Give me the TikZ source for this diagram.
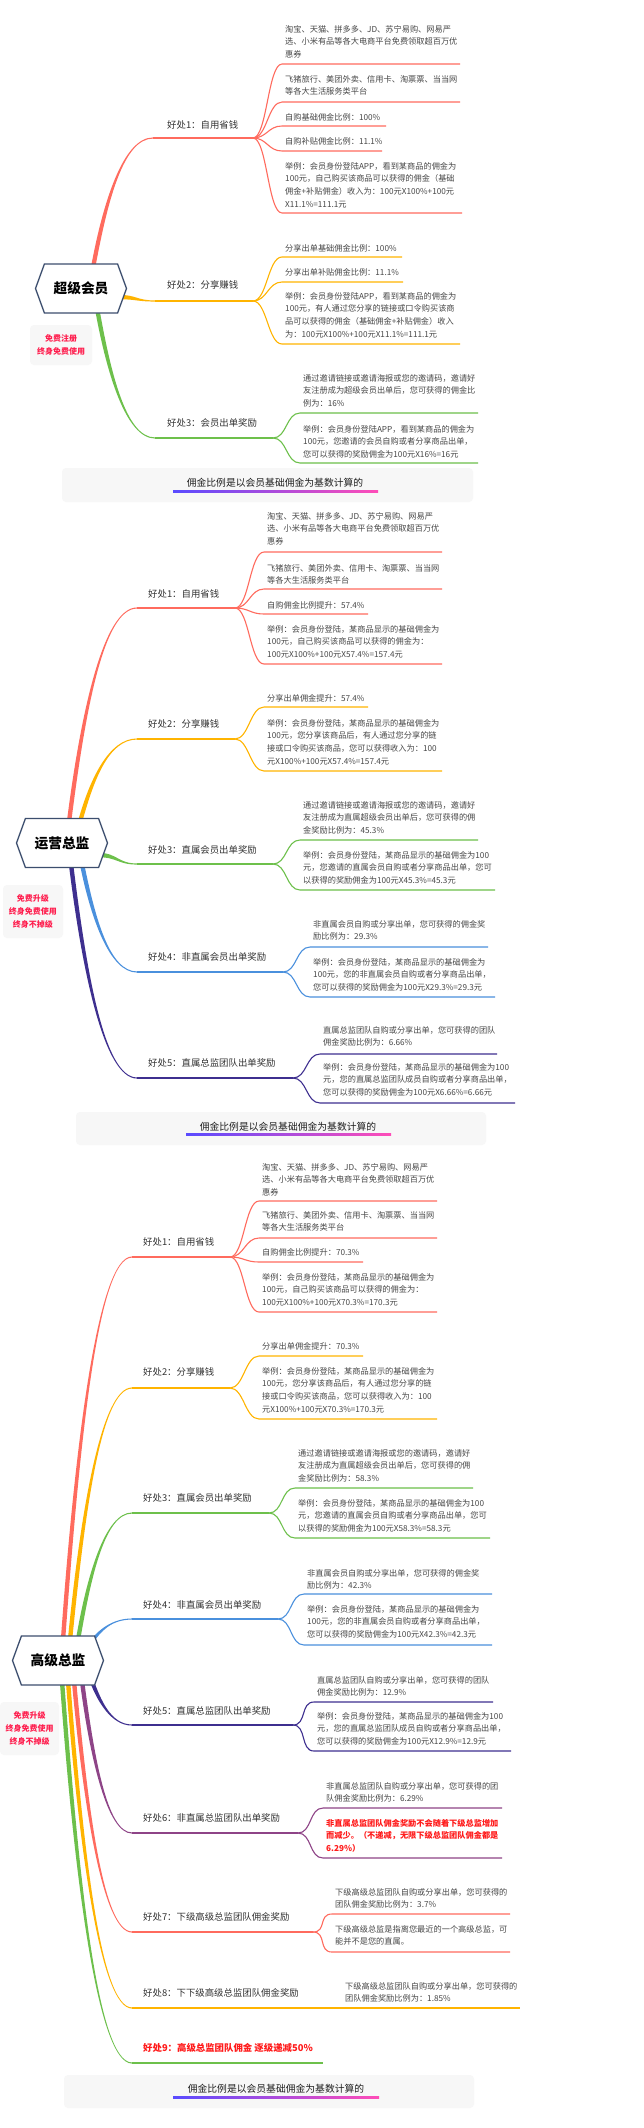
\documentclass[tikz,border=0pt]{standalone}
\usepackage{fontspec}
\setmainfont{Noto Sans CJK SC}
\usetikzlibrary{shapes.symbols,calc}
\definecolor{cRed}{HTML}{FF6B5E}
\definecolor{cOrange}{HTML}{FFB400}
\definecolor{cGreen}{HTML}{6DC04B}
\definecolor{cBlue}{HTML}{4A90DD}
\definecolor{cDPurple}{HTML}{3E2F8F}
\definecolor{cPurple}{HTML}{8E4487}
\definecolor{cText}{HTML}{474747}
\definecolor{cLabel}{HTML}{333333}
\definecolor{cBadge}{HTML}{FF1E4E}
\definecolor{cNote}{HTML}{F7F7F7}
\definecolor{cNoteT}{HTML}{1E1E1E}
\definecolor{cRoot}{HTML}{3C4E6E}
\definecolor{cRedT}{HTML}{FF1A1A}
\definecolor{gBlue}{HTML}{5A4BFF}
\definecolor{gPink}{HTML}{FF4DB8}
\tikzset{
 thinl/.style={line width=1.1pt},
 leaftext/.style={inner sep=0pt, align=left, text=cText, font=\fontsize{8.2}{12.7}\selectfont},
 leafred/.style={inner sep=0pt, align=left, text=cRedT, font=\fontsize{8.2}{12.7}\selectfont\bfseries},
 brlabel/.style={inner sep=0pt, text=cLabel, font=\fontsize{9.4}{11}\selectfont},
 rootbox/.style={shape=signal, signal to=east and west, signal pointer angle=140, draw=cRoot, line width=1.3pt, fill=white, minimum width=91pt, minimum height=49pt, inner sep=0pt, font=\fontsize{13.7}{16}\selectfont\bfseries, text=black},
 badge/.style={fill=cNote, rounded corners=4pt, align=center, text=cBadge, font=\fontsize{8}{13}\selectfont\bfseries, inner sep=0pt},
 notebox/.style={fill=cNote, rounded corners=4pt, inner sep=0pt},
 notetext/.style={inner sep=0pt, text=cNoteT, font=\fontsize{9.8}{12}\selectfont},
}
% tapered main branch, mostly vertical start; #4 = 1 upward, -1 downward
\newcommand\mainup[4]{%
\fill[#1] let \p1=(#2), \p2=(#3) in
 ({\x1-2.2pt},\y1) .. controls ({\x1+0.2*(\x2-\x1)-2.2pt},{\y1+0.5*(\y2-\y1)}) and ({\x1+0.5*(\x2-\x1)},{\y2+#4*0.55pt}) .. (\x2,{\y2+#4*0.55pt})
 -- (\x2,{\y2-#4*0.55pt}) .. controls ({\x1+0.5*(\x2-\x1)},{\y2-#4*0.55pt}) and ({\x1+0.2*(\x2-\x1)+2.2pt},{\y1+0.5*(\y2-\y1)}) .. ({\x1+2.2pt},\y1) -- cycle;}
% tapered main branch, horizontal start
\newcommand\mainh[3]{%
\fill[#1] let \p1=(#2), \p2=(#3) in
 (\x1,{\y1+2.2pt}) .. controls ({0.5*(\x1+\x2)},{\y1+2.2pt}) and ({0.5*(\x1+\x2)},{\y2+0.55pt}) .. (\x2,{\y2+0.55pt})
 -- (\x2,{\y2-0.55pt}) .. controls ({0.5*(\x1+\x2)},{\y2-0.55pt}) and ({0.5*(\x1+\x2)},{\y1-2.2pt}) .. (\x1,{\y1-2.2pt}) -- cycle;}
% leaf: color, junction, name, text x, first line center y, underline y, end x, text
\newcommand\leaf[8]{%
 \coordinate (#3a) at (#4-3,#6); \coordinate (#3b) at (#7,#6);
 \draw[#1,thinl] (#2) .. controls +(14,0) and +(-14,0) .. (#3a) -- (#3b);
 \node[leaftext,anchor=north west] (#3) at (#4,#5-4.1) {#8};}
\begin{document}
\begin{tikzpicture}[x=1pt,y=-1pt]
\useasboundingbox (0,0) rectangle (644,2128);
\fill[white] (0,0) rectangle (644,2128);

%================ Section A =================
\node[notebox,minimum width=411pt,minimum height=34pt] (An) at (267.5,485) {};
\node[notetext] (Ant) at (275,483) {佣金比例是以会员基础佣金为基数计算的};
\shade[left color=gBlue,right color=gPink] (173,490) rectangle (378,492.5);

\coordinate (As1) at (93,268); \coordinate (Ae1) at (153,138); \coordinate (Aj1) at (253,138);
\coordinate (As2) at (118,297); \coordinate (Ae2) at (155,301); \coordinate (Aj2) at (253,301);
\coordinate (As3) at (97,308); \coordinate (Ae3) at (155,438); \coordinate (Aj3) at (273,438);
\mainup{cRed}{As1}{Ae1}{1} \draw[cRed,thinl] (Ae1) -- (Aj1);
\mainh{cOrange}{As2}{Ae2} \draw[cOrange,thinl] (Ae2) -- (Aj2);
\mainup{cGreen}{As3}{Ae3}{-1} \draw[cGreen,thinl] (Ae3) -- (Aj3);

\leaf{cRed}{Aj1}{A1a}{285}{29}{64}{460}{淘宝、天猫、拼多多、JD、苏宁易购、网易严\\选、小米有品等各大电商平台免费领取超百万优\\惠券}
\leaf{cRed}{Aj1}{A1b}{285}{79}{102}{460}{飞猪旅行、美团外卖、信用卡、淘票票、当当网\\等各大生活服务类平台}
\leaf{cRed}{Aj1}{A1c}{285}{117}{126}{386}{自购基础佣金比例：100\%}
\leaf{cRed}{Aj1}{A1d}{285}{141}{151}{382}{自购补贴佣金比例：11.1\%}
\leaf{cRed}{Aj1}{A1e}{285}{166}{213}{462}{举例：会员身份登陆APP，看到某商品的佣金为\\100元，自己购买该商品可以获得的佣金（基础\\佣金+补贴佣金）收入为：100元X100\%+100元\\X11.1\%=111.1元}
\leaf{cOrange}{Aj2}{A2a}{285}{248}{257}{402}{分享出单基础佣金比例：100\%}
\leaf{cOrange}{Aj2}{A2b}{285}{272}{282}{403}{分享出单补贴佣金比例：11.1\%}
\leaf{cOrange}{Aj2}{A2c}{285}{296}{344}{460}{举例：会员身份登陆APP，看到某商品的佣金为\\100元，有人通过您分享的链接或口令购买该商\\品可以获得的佣金（基础佣金+补贴佣金）收入\\为：100元X100\%+100元X11.1\%=111.1元}
\leaf{cGreen}{Aj3}{A3a}{303}{378}{413}{478}{通过邀请链接或邀请海报或您的邀请码，邀请好\\友注册成为超级会员出单后，您可获得的佣金比\\例为：16\%}
\leaf{cGreen}{Aj3}{A3b}{303}{429}{463}{478}{举例：会员身份登陆APP，看到某商品的佣金为\\100元，您邀请的会员自购或者分享商品出单，\\您可以获得的奖励佣金为100元X16\%=16元}

\node[brlabel,anchor=base west] (Al1) at (167,128.6) {好处1：自用省钱};
\node[brlabel,anchor=base west] (Al2) at (167,288.6) {好处2：分享赚钱};
\node[brlabel,anchor=base west] (Al3) at (167,426.6) {好处3：会员出单奖励};
\node[rootbox] (Ar) at (81,288.5) {超级会员};
\node[badge,minimum width=62pt,minimum height=40pt] (Ab) at (61,345) {免费注册\\终身免费使用};

%================ Section B =================
\node[notebox,minimum width=410pt,minimum height=33pt] (Bn) at (281,1128.5) {};
\node[notetext] (Bnt) at (288,1127) {佣金比例是以会员基础佣金为基数计算的};
\shade[left color=gBlue,right color=gPink] (186,1133) rectangle (391,1135.5);

\coordinate (Bs1) at (69,822); \coordinate (Be1) at (137,608); \coordinate (Bj1) at (235,608);
\coordinate (Bs2) at (80,822); \coordinate (Be2) at (137,739); \coordinate (Bj2) at (235,739);
\coordinate (Bs3) at (98,855); \coordinate (Be3) at (137,864); \coordinate (Bj3) at (273,864);
\coordinate (Bs4) at (82,864); \coordinate (Be4) at (137,972); \coordinate (Bj4) at (283,972);
\coordinate (Bs5) at (71,864); \coordinate (Be5) at (137,1078); \coordinate (Bj5) at (293,1078);
\mainup{cRed}{Bs1}{Be1}{1} \draw[cRed,thinl] (Be1) -- (Bj1);
\mainup{cOrange}{Bs2}{Be2}{1} \draw[cOrange,thinl] (Be2) -- (Bj2);
\mainh{cGreen}{Bs3}{Be3} \draw[cGreen,thinl] (Be3) -- (Bj3);
\mainup{cBlue}{Bs4}{Be4}{-1} \draw[cBlue,thinl] (Be4) -- (Bj4);
\mainup{cDPurple}{Bs5}{Be5}{-1} \draw[cDPurple,thinl] (Be5) -- (Bj5);

\leaf{cRed}{Bj1}{B1a}{267}{516}{552}{442}{淘宝、天猫、拼多多、JD、苏宁易购、网易严\\选、小米有品等各大电商平台免费领取超百万优\\惠券}
\leaf{cRed}{Bj1}{B1b}{267}{568}{589}{442}{飞猪旅行、美团外卖、信用卡、淘票票、当当网\\等各大生活服务类平台}
\leaf{cRed}{Bj1}{B1c}{267}{605}{614}{368}{自购佣金比例提升：57.4\%}
\leaf{cRed}{Bj1}{B1d}{267}{629}{664}{442}{举例：会员身份登陆，某商品显示的基础佣金为\\100元，自己购买该商品可以获得的佣金为：\\100元X100\%+100元X57.4\%=157.4元}
\leaf{cOrange}{Bj2}{B2a}{267}{698}{707}{368}{分享出单佣金提升：57.4\%}
\leaf{cOrange}{Bj2}{B2b}{267}{723}{771}{442}{举例：会员身份登陆，某商品显示的基础佣金为\\100元，您分享该商品后，有人通过您分享的链\\接或口令购买该商品，您可以获得收入为：100\\元X100\%+100元X57.4\%=157.4元}
\leaf{cGreen}{Bj3}{B3a}{303}{805}{840}{478}{通过邀请链接或邀请海报或您的邀请码，邀请好\\友注册成为直属超级会员出单后，您可获得的佣\\金奖励比例为：45.3\%}
\leaf{cGreen}{Bj3}{B3b}{303}{855}{890}{495}{举例：会员身份登陆，某商品显示的基础佣金为100\\元，您邀请的直属会员自购或者分享商品出单，您可\\以获得的奖励佣金为100元X45.3\%=45.3元}
\leaf{cBlue}{Bj4}{B4a}{313}{924}{947}{488}{非直属会员自购或分享出单，您可获得的佣金奖\\励比例为：29.3\%}
\leaf{cBlue}{Bj4}{B4b}{313}{962}{997}{495}{举例：会员身份登陆，某商品显示的基础佣金为\\100元，您的非直属会员自购或者分享商品出单，\\您可以获得的奖励佣金为100元X29.3\%=29.3元}
\leaf{cDPurple}{Bj5}{B5a}{323}{1030}{1054}{497}{直属总监团队自购或分享出单，您可获得的团队\\佣金奖励比例为：6.66\%}
\leaf{cDPurple}{Bj5}{B5b}{323}{1067}{1103}{515}{举例：会员身份登陆，某商品显示的基础佣金为100\\元，您的直属总监团队成员自购或者分享商品出单，\\您可以获得的奖励佣金为100元X6.66\%=6.66元}

\node[brlabel,anchor=base west] (Bl1) at (148,597.6) {好处1：自用省钱};
\node[brlabel,anchor=base west] (Bl2) at (148,727.6) {好处2：分享赚钱};
\node[brlabel,anchor=base west] (Bl3) at (148,853.6) {好处3：直属会员出单奖励};
\node[brlabel,anchor=base west] (Bl4) at (148,960.6) {好处4：非直属会员出单奖励};
\node[brlabel,anchor=base west] (Bl5) at (148,1066.6) {好处5：直属总监团队出单奖励};
\node[rootbox] (Br) at (62,843) {运营总监};
\node[badge,minimum width=60pt,minimum height=53pt] (Bb) at (33,911.5) {免费升级\\终身免费使用\\终身不掉级};

%================ Section C =================
\node[notebox,minimum width=410pt,minimum height=33pt] (Cn) at (269,2091.5) {};
\node[notetext] (Cnt) at (276,2089) {佣金比例是以会员基础佣金为基数计算的};
\shade[left color=gBlue,right color=gPink] (173,2096) rectangle (379,2098.5);

\coordinate (Cs1) at (63,1640); \coordinate (Ce1) at (132,1257); \coordinate (Cj1) at (230,1257);
\coordinate (Cs2) at (70,1640); \coordinate (Ce2) at (132,1388); \coordinate (Cj2) at (230,1388);
\coordinate (Cs3) at (78,1640); \coordinate (Ce3) at (132,1513); \coordinate (Cj3) at (269,1513);
\coordinate (Cs4) at (90,1644); \coordinate (Ce4) at (132,1619); \coordinate (Cj4) at (278,1619);
\coordinate (Cs5) at (90,1676); \coordinate (Ce5) at (132,1725); \coordinate (Cj5) at (293,1725);
\coordinate (Cs6) at (82,1681); \coordinate (Ce6) at (132,1833); \coordinate (Cj6) at (298,1833);
\coordinate (Cs7) at (74,1681); \coordinate (Ce7) at (132,1932); \coordinate (Cj7) at (313,1932);
\coordinate (Cs8) at (68,1681); \coordinate (Ce8) at (132,2008); \coordinate (Cj8) at (520,2008);
\coordinate (Cs9) at (62,1681); \coordinate (Ce9) at (132,2063); \coordinate (Cj9) at (323,2063);
\mainup{cRed}{Cs1}{Ce1}{1} \draw[cRed,thinl] (Ce1) -- (Cj1);
\mainup{cOrange}{Cs2}{Ce2}{1} \draw[cOrange,thinl] (Ce2) -- (Cj2);
\mainup{cGreen}{Cs3}{Ce3}{1} \draw[cGreen,thinl] (Ce3) -- (Cj3);
\mainup{cBlue}{Cs4}{Ce4}{1} \draw[cBlue,thinl] (Ce4) -- (Cj4);
\mainup{cDPurple}{Cs5}{Ce5}{-1} \draw[cDPurple,thinl] (Ce5) -- (Cj5);
\mainup{cPurple}{Cs6}{Ce6}{-1} \draw[cPurple,thinl] (Ce6) -- (Cj6);
\mainup{cRed}{Cs7}{Ce7}{-1} \draw[cRed,thinl] (Ce7) -- (Cj7);
\mainup{cOrange}{Cs8}{Ce8}{-1} \draw[cOrange,thinl] (Ce8) -- (Cj8);
\mainup{cGreen}{Cs9}{Ce9}{-1} \draw[cGreen,thinl] (Ce9) -- (Cj9);

\leaf{cRed}{Cj1}{C1a}{262}{1167}{1201}{437}{淘宝、天猫、拼多多、JD、苏宁易购、网易严\\选、小米有品等各大电商平台免费领取超百万优\\惠券}
\leaf{cRed}{Cj1}{C1b}{262}{1215}{1238}{437}{飞猪旅行、美团外卖、信用卡、淘票票、当当网\\等各大生活服务类平台}
\leaf{cRed}{Cj1}{C1c}{262}{1252}{1262}{363}{自购佣金比例提升：70.3\%}
\leaf{cRed}{Cj1}{C1d}{262}{1277}{1312}{437}{举例：会员身份登陆，某商品显示的基础佣金为\\100元，自己购买该商品可以获得的佣金为：\\100元X100\%+100元X70.3\%=170.3元}
\leaf{cOrange}{Cj2}{C2a}{262}{1346}{1356}{363}{分享出单佣金提升：70.3\%}
\leaf{cOrange}{Cj2}{C2b}{262}{1371}{1419}{437}{举例：会员身份登陆，某商品显示的基础佣金为\\100元，您分享该商品后，有人通过您分享的链\\接或口令购买该商品，您可以获得收入为：100\\元X100\%+100元X70.3\%=170.3元}
\leaf{cGreen}{Cj3}{C3a}{298}{1453}{1488}{473}{通过邀请链接或邀请海报或您的邀请码，邀请好\\友注册成为直属超级会员出单后，您可获得的佣\\金奖励比例为：58.3\%}
\leaf{cGreen}{Cj3}{C3b}{298}{1503}{1538}{490}{举例：会员身份登陆，某商品显示的基础佣金为100\\元，您邀请的直属会员自购或者分享商品出单，您可\\以获得的奖励佣金为100元X58.3\%=58.3元}
\leaf{cBlue}{Cj4}{C4a}{307}{1573}{1594}{492}{非直属会员自购或分享出单，您可获得的佣金奖\\励比例为：42.3\%}
\leaf{cBlue}{Cj4}{C4b}{307}{1609}{1645}{492}{举例：会员身份登陆，某商品显示的基础佣金为\\100元，您的非直属会员自购或者分享商品出单，\\您可以获得的奖励佣金为100元X42.3\%=42.3元}
\leaf{cDPurple}{Cj5}{C5a}{317}{1680}{1702}{493}{直属总监团队自购或分享出单，您可获得的团队\\佣金奖励比例为：12.9\%}
\leaf{cDPurple}{Cj5}{C5b}{317}{1716}{1751}{511}{举例：会员身份登陆，某商品显示的基础佣金为100\\元，您的直属总监团队成员自购或者分享商品出单，\\您可以获得的奖励佣金为100元X12.9\%=12.9元}
\leaf{cPurple}{Cj6}{C6a}{326}{1786}{1808}{502}{非直属总监团队自购或分享出单，您可获得的团\\队佣金奖励比例为：6.29\%}
\coordinate (C6ba) at (323,1858); \coordinate (C6bb) at (502,1858);
\draw[cPurple,thinl] (Cj6) .. controls +(14,0) and +(-14,0) .. (C6ba) -- (C6bb);
\node[leafred,anchor=north west] (C6b) at (326,1823-4.1) {非直属总监团队佣金奖励不会随着下级总监增加\\而减少。（不递减，无限下级总监团队佣金都是\\6.29\%）};
\leaf{cRed}{Cj7}{C7a}{335}{1892}{1914}{510}{下级高级总监团队自购或分享出单，您可获得的\\团队佣金奖励比例为：3.7\%}
\leaf{cRed}{Cj7}{C7b}{335}{1929}{1952}{510}{下级高级总监是指离您最近的一个高级总监，可\\能并不是您的直属。}
\node[leaftext,anchor=north west] (C8a) at (345,1986-4.1) {下级高级总监团队自购或分享出单，您可获得的\\团队佣金奖励比例为：1.85\%};

\node[brlabel,anchor=base west] (Cl1) at (143,1245.6) {好处1：自用省钱};
\node[brlabel,anchor=base west] (Cl2) at (143,1375.6) {好处2：分享赚钱};
\node[brlabel,anchor=base west] (Cl3) at (143,1501.6) {好处3：直属会员出单奖励};
\node[brlabel,anchor=base west] (Cl4) at (143,1608.6) {好处4：非直属会员出单奖励};
\node[brlabel,anchor=base west] (Cl5) at (143,1714.6) {好处5：直属总监团队出单奖励};
\node[brlabel,anchor=base west] (Cl6) at (143,1821.6) {好处6：非直属总监团队出单奖励};
\node[brlabel,anchor=base west] (Cl7) at (143,1920.6) {好处7：下级高级总监团队佣金奖励};
\node[brlabel,anchor=base west] (Cl8) at (143,1996.6) {好处8：下下级高级总监团队佣金奖励};
\node[brlabel,anchor=base west,text=cRedT,font=\fontsize{9.4}{11}\selectfont\bfseries] (Cl9) at (143,2051.6) {好处9：高级总监团队佣金 逐级递减50\%};
\node[rootbox] (Cr) at (58,1660.5) {高级总监};
\node[badge,minimum width=59pt,minimum height=53pt] (Cb) at (29.5,1728.5) {免费升级\\终身免费使用\\终身不掉级};
\end{tikzpicture}
\end{document}
